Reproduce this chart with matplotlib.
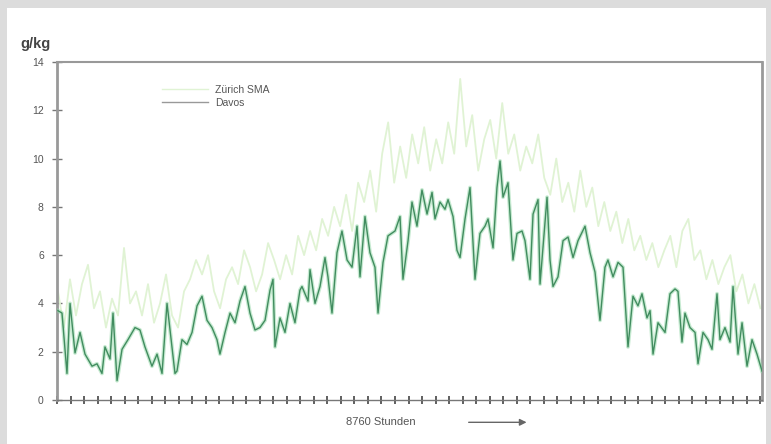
import numpy as np
import matplotlib
matplotlib.use("Agg")
import matplotlib.pyplot as plt
from matplotlib.patches import Rectangle
from matplotlib.lines import Line2D

plt.rcParams['font.family'] = ['Liberation Sans', 'DejaVu Sans']

# ---- data ----
davos_hours = [12, 62, 124, 162, 224, 286, 348, 435, 497, 559, 596, 659, 696, 746, 808, 882,
               969, 1031, 1093, 1180, 1243, 1305, 1367, 1429, 1466, 1491, 1553, 1615, 1678,
               1740, 1802, 1864, 1926, 1988, 2025, 2088, 2150, 2212, 2274, 2336, 2398, 2460,
               2522, 2585, 2647, 2684, 2709, 2771, 2833, 2895, 2957, 3019, 3044, 3119, 3144,
               3206, 3268, 3330, 3367, 3417, 3479, 3541, 3604, 3666, 3728, 3765, 3827, 3889,
               3951, 3989, 4051, 4113, 4200, 4262, 4299, 4362, 4411, 4473, 4535, 4598, 4660,
               4697, 4759, 4821, 4859, 4921, 4970, 5008, 5070, 5132, 5194, 5256, 5318, 5356,
               5418, 5467, 5505, 5542, 5604, 5666, 5716, 5778, 5815, 5877, 5915, 5977, 6002,
               6089, 6126, 6163, 6225, 6288, 6350, 6412, 6474, 6561, 6623, 6685, 6747, 6809,
               6846, 6909, 6971, 7033, 7095, 7157, 7219, 7269, 7331, 7369, 7406, 7468, 7555,
               7617, 7679, 7716, 7766, 7803, 7865, 7928, 7965, 8027, 8089, 8139, 8201, 8238,
               8300, 8363, 8400, 8462, 8512, 8574, 8636, 8698, 8760]
davos_values = [3.7, 3.6, 1.1, 4.0, 1.95, 2.8, 1.9, 1.4, 1.5, 1.1, 2.2, 1.7, 3.6, 0.8, 2.1, 2.5,
                3.0, 2.9, 2.2, 1.4, 1.9, 1.1, 4.0, 2.2, 1.1, 1.2, 2.5, 2.3, 2.8,
                3.9, 4.3, 3.3, 3.0, 2.5, 1.9, 2.8, 3.6, 3.2, 4.1, 4.7, 3.6, 2.9,
                3.0, 3.3, 4.55, 5.0, 2.2, 3.4, 2.8, 4.0, 3.2, 4.55, 4.7, 4.1, 5.4,
                4.0, 4.7, 5.9, 5.1, 3.6, 6.1, 7.0, 5.8, 5.5, 7.2, 5.1, 7.6, 6.1,
                5.5, 3.6, 5.7, 6.8, 7.0, 7.6, 5.0, 6.6, 8.2, 7.2, 8.7, 7.7, 8.6,
                7.5, 8.2, 7.9, 8.3, 7.6, 6.2, 5.9, 7.5, 8.8, 5.0, 6.9, 7.2, 7.5,
                6.3, 8.8, 9.9, 8.4, 9.0, 5.8, 6.9, 7.0, 6.6, 5.0, 7.7, 8.3, 4.8,
                8.4, 5.8, 4.7, 5.1, 6.6, 6.75, 5.9, 6.6, 7.2, 6.1, 5.3, 3.3, 5.5,
                5.8, 5.1, 5.7, 5.5, 2.2, 4.3, 3.9, 4.4, 3.4, 3.7, 1.9, 3.2, 2.8,
                4.4, 4.6, 4.5, 2.4, 3.6, 3.0, 2.8, 1.5, 2.8, 2.5, 2.1, 4.4, 2.5,
                3.0, 2.4, 4.7, 1.9, 3.2, 1.4, 2.5, 1.9, 1.2]

zurich_values = [4.5, 3.0, 5.0, 3.5, 4.8, 5.6, 3.8, 4.5, 3.0, 4.2, 3.5, 6.3, 4.0, 4.5, 3.5,
                 4.8, 3.2, 4.0, 5.2, 3.5, 3.0, 4.5, 5.0, 5.8, 5.2, 6.0, 4.5, 3.8, 5.0, 5.5,
                 4.8, 6.2, 5.5, 4.5, 5.2, 6.5, 5.8, 5.0, 6.0, 5.2, 6.8, 6.0, 7.0, 6.2, 7.5,
                 6.8, 8.0, 7.2, 8.5, 7.0, 9.0, 8.2, 9.5, 7.8, 10.2, 11.5, 9.0, 10.5, 9.2,
                 11.0, 9.8, 11.3, 9.5, 10.8, 9.8, 11.5, 10.2, 13.3, 10.5, 11.8, 9.5, 10.8,
                 11.6, 10.0, 12.3, 10.2, 11.0, 9.5, 10.5, 9.8, 11.0, 9.2, 8.5, 10.0, 8.2,
                 9.0, 7.8, 9.5, 8.0, 8.8, 7.2, 8.2, 7.0, 7.8, 6.5, 7.5, 6.2, 6.8, 5.8, 6.5,
                 5.5, 6.2, 6.8, 5.5, 7.0, 7.5, 5.8, 6.2, 5.0, 5.8, 4.8, 5.5, 6.0, 4.5, 5.2,
                 4.0, 4.8, 3.8]
zurich_hours = np.linspace(12, 8740, len(zurich_values))

y_ticks = [0, 2, 4, 6, 8, 10, 12, 14]
total_hours = 8760
week_hours = 168

# ---- figure ----
fig = plt.figure(figsize=(7.71, 4.44), dpi=100, facecolor='#dcdcdc')
bg = Rectangle((7 / 771, 0), 759 / 771, 436 / 444, transform=fig.transFigure,
               facecolor='white', edgecolor='none', zorder=-10)
fig.add_artist(bg)

ax = fig.add_axes([57 / 771, 44 / 444, 705 / 771, 338 / 444])
ax.set_zorder(1)
ax.set_facecolor('white')

ax.plot(zurich_hours, zurich_values, color='#e0f3d4', lw=1.3, zorder=2)
ax.plot(davos_hours, davos_values, color='#8fd6a4', lw=2.8, alpha=0.5, zorder=3)
ax.plot(davos_hours, davos_values, color='#418c5f', lw=1.0, zorder=4)

ax.set_xlim(0, total_hours)
ax.set_ylim(0, 14)

ax.set_yticks(y_ticks)
ax.set_yticklabels([str(t) for t in y_ticks])
ax.set_xticks(np.arange(0, total_hours + 1, week_hours))
ax.set_xticklabels([])

ax.tick_params(axis='y', direction='inout', length=7, width=1, color='#777',
               labelsize=7.5, labelcolor='#555', pad=6)
ax.tick_params(axis='x', direction='inout', length=6, width=1.2, color='#444')

for s in ['left', 'right', 'top']:
    ax.spines[s].set_color('#999')
ax.spines['left'].set_linewidth(2.0)
ax.spines['right'].set_linewidth(2.0)
ax.spines['top'].set_linewidth(1.5)
ax.spines['bottom'].set_color('#777')
ax.spines['bottom'].set_linewidth(1.0)

# unit label
fig.text(20 / 771, 1 - 44 / 444, 'g/kg', fontsize=10.5, color='#444',
         fontweight='bold', va='center', ha='left')

# legend
handles = [Line2D([], [], color='#e0f3d4', lw=1.0),
           Line2D([], [], color='#999', lw=1.0)]
leg = ax.legend(handles, ['Zürich SMA', 'Davos'], loc='upper left',
                bbox_to_anchor=(0.135, 0.96), frameon=False, fontsize=7.5,
                handlelength=4.5, handletextpad=0.6, labelspacing=0.3)
for t in leg.get_texts():
    t.set_color('#555')

# x label with arrow
ax.text(0.46, -0.066, '8760 Stunden', transform=ax.transAxes, fontsize=8,
        color='#555', ha='center', va='center')
ax.annotate('', xy=(0.67, -0.066), xytext=(0.58, -0.066), xycoords='axes fraction',
            textcoords='axes fraction',
            arrowprops=dict(arrowstyle='-|>', color='#666', lw=1.0,
                            mutation_scale=10), annotation_clip=False)

fig.savefig('out.png', dpi=100, facecolor=fig.get_facecolor())
